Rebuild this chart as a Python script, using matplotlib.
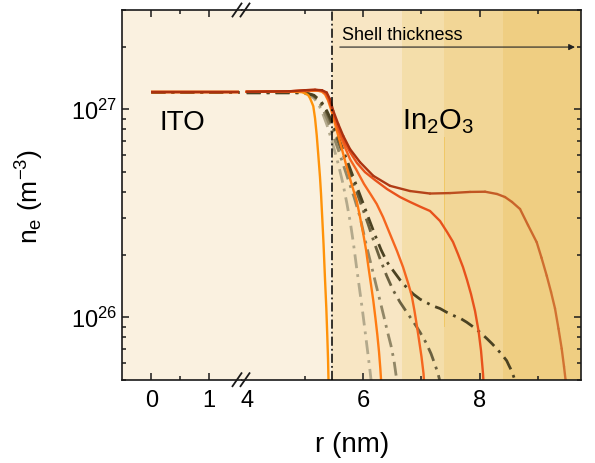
import matplotlib
matplotlib.use('Agg')
import numpy as np
import matplotlib.pyplot as plt
from matplotlib.ticker import LogLocator, NullFormatter, FixedLocator
from matplotlib.lines import Line2D
from matplotlib.collections import LineCollection
from matplotlib.colors import to_rgb

plt.rcParams['font.family'] = ['Liberation Sans', 'DejaVu Sans']
plt.rcParams['mathtext.fontset'] = 'custom'
plt.rcParams['mathtext.rm'] = 'Liberation Sans'
plt.rcParams['mathtext.it'] = 'Liberation Sans:italic'
plt.rcParams['mathtext.bf'] = 'Liberation Sans:bold'

# ---------------- data ----------------
# ITO core part (same for all profiles)
core_r = [0.0, 1.52]
core_n = [1.21e27, 1.21e27]

# shell profiles (r in nm, n_e in m^-3)
r1 = [4.0, 4.830, 4.951, 5.019, 5.058, 5.088, 5.117, 5.144, 5.174, 5.203, 5.230, 5.259, 5.277,
      5.299, 5.320, 5.345, 5.368, 5.385, 5.397, 5.405, 5.411]
n1 = [1.213e27, 1.213e27, 1.207e27, 1.187e27, 1.167e27, 1.129e27, 1.080e27, 1.034e27, 9.05e26,
      7.50e26, 6.02e26, 4.72e26, 3.91e26, 2.96e26, 2.25e26, 1.53e26, 1.10e26, 8.05e25, 6.31e25,
      5.0e25, 4.29e25]

r2 = [4.0, 4.916, 5.053, 5.156, 5.242, 5.311, 5.380, 5.448, 5.517, 5.586, 5.655, 5.723, 5.784,
      5.835, 5.887, 5.938, 5.990, 6.033, 6.076, 6.110, 6.136, 6.148]
n2 = [1.200e27, 1.200e27, 1.180e27, 1.129e27, 1.045e27, 9.46e26, 8.38e26, 7.26e26, 6.22e26,
      5.27e26, 4.37e26, 3.50e26, 2.81e26, 2.25e26, 1.74e26, 1.37e26, 1.07e26, 8.60e25, 6.89e25,
      5.78e25, 5.0e25, 4.43e25]

r3 = [4.0, 4.916, 5.225, 5.294, 5.345, 5.397, 5.448, 5.500, 5.551, 5.603, 5.663, 5.718, 5.792,
      5.890, 5.947, 6.003, 6.050, 6.089, 6.136, 6.175, 6.213, 6.244, 6.273, 6.296, 6.308, 6.316]
n3 = [1.213e27, 1.220e27, 1.227e27, 1.213e27, 1.180e27, 1.105e27, 1.0e27, 8.86e26, 7.84e26,
      6.94e26, 6.02e26, 5.27e26, 4.46e26, 3.62e26, 3.03e26, 2.51e26, 2.11e26, 1.76e26, 1.43e26,
      1.20e26, 9.82e25, 8.23e25, 6.82e25, 5.65e25, 5.0e25, 4.43e25]

r4 = [4.0, 5.002, 5.122, 5.225, 5.311, 5.397, 5.483, 5.569, 5.655, 5.741, 5.844, 5.947, 6.050,
      6.148, 6.222, 6.290, 6.359, 6.419, 6.479, 6.531, 6.577, 6.591]
n4 = [1.200e27, 1.200e27, 1.167e27, 1.105e27, 1.0e27, 8.76e26, 7.50e26, 6.43e26, 5.45e26,
      4.61e26, 3.78e26, 3.03e26, 2.25e26, 1.74e26, 1.43e26, 1.20e26, 1.00e26, 8.50e25, 7.29e25,
      6.17e25, 5.0e25, 4.43e25]

r5 = [4.0, 4.916, 5.225, 5.294, 5.363, 5.414, 5.466, 5.517, 5.586, 5.672, 5.775, 5.878, 6.015,
      6.136, 6.234, 6.342, 6.462, 6.582, 6.686, 6.772, 6.835, 6.883, 6.921, 6.960, 7.003, 7.038,
      7.055]
n5 = [1.213e27, 1.220e27, 1.234e27, 1.227e27, 1.180e27, 1.092e27, 1.0e27, 8.95e26, 7.76e26,
      6.72e26, 5.75e26, 5.15e26, 4.37e26, 3.87e26, 3.50e26, 3.03e26, 2.51e26, 2.08e26, 1.74e26,
      1.46e26, 1.27e26, 1.07e26, 9.19e25, 7.78e25, 6.45e25, 5.35e25, 4.53e25]

r6 = [4.0, 5.002, 5.139, 5.259, 5.363, 5.466, 5.569, 5.672, 5.775, 5.878, 5.981, 6.084, 6.187,
      6.290, 6.405, 6.514, 6.634, 6.755, 6.875, 6.978, 7.081, 7.167, 7.236, 7.287, 7.313, 7.330]
n6 = [1.200e27, 1.200e27, 1.167e27, 1.092e27, 9.78e26, 8.38e26, 7.02e26, 5.89e26, 4.93e26,
      4.09e26, 3.39e26, 2.81e26, 2.30e26, 1.91e26, 1.58e26, 1.35e26, 1.18e26, 1.05e26, 9.39e25,
      8.46e25, 7.53e25, 6.67e25, 5.90e25, 5.35e25, 5.0e25, 4.43e25]

r7 = [4.0, 4.744, 5.002, 5.174, 5.294, 5.363, 5.414, 5.466, 5.534, 5.603, 5.689, 5.775, 5.895,
      6.033, 6.205, 6.411, 6.634, 6.806, 6.978, 7.149, 7.321, 7.441, 7.544, 7.630, 7.716, 7.785,
      7.854, 7.923, 7.983, 8.026, 8.060, 8.074]
n7 = [1.213e27, 1.220e27, 1.234e27, 1.240e27, 1.227e27, 1.194e27, 1.117e27, 1.0e27, 8.76e26,
      7.76e26, 6.87e26, 6.22e26, 5.51e26, 4.98e26, 4.56e26, 4.13e26, 3.78e26, 3.58e26, 3.40e26,
      3.24e26, 2.90e26, 2.57e26, 2.30e26, 2.01e26, 1.74e26, 1.51e26, 1.29e26, 1.07e26, 8.60e25,
      6.89e25, 5.35e25, 4.53e25]

r8 = [4.0, 5.002, 5.156, 5.277, 5.380, 5.483, 5.586, 5.689, 5.792, 5.895, 5.998, 6.101, 6.205,
      6.308, 6.411, 6.519, 6.634, 6.755, 6.863, 6.978, 7.098, 7.206, 7.321, 7.436, 7.579, 7.682,
      7.780, 7.888, 8.009, 8.129, 8.215, 8.296, 8.370, 8.421, 8.467, 8.507, 8.541, 8.581, 8.611,
      8.628]
n8 = [1.200e27, 1.200e27, 1.167e27, 1.092e27, 9.78e26, 8.47e26, 7.18e26, 6.02e26, 5.04e26,
      4.22e26, 3.54e26, 2.96e26, 2.48e26, 2.11e26, 1.84e26, 1.67e26, 1.51e26, 1.38e26, 1.29e26,
      1.22e26, 1.17e26, 1.13e26, 1.10e26, 1.055e26, 1.01e26, 9.82e25, 9.45e25, 8.99e25, 8.45e25,
      7.87e25, 7.45e25, 7.05e25, 6.67e25, 6.41e25, 6.17e25, 5.84e25, 5.59e25, 5.23e25, 4.95e25,
      4.43e25]

r9 = [4.0, 4.744, 5.002, 5.174, 5.294, 5.375, 5.431, 5.488, 5.574, 5.660, 5.775, 5.947, 6.175,
      6.462, 6.806, 7.149, 7.493, 7.837, 8.095, 8.301, 8.438, 8.558, 8.696, 8.833, 8.983, 9.065,
      9.155, 9.229, 9.297, 9.357, 9.412, 9.452, 9.478, 9.490]
n9 = [1.213e27, 1.220e27, 1.234e27, 1.240e27, 1.234e27, 1.203e27, 1.117e27, 9.81e26, 8.47e26,
      7.43e26, 6.43e26, 5.56e26, 4.78e26, 4.28e26, 4.04e26, 3.93e26, 3.95e26, 4.00e26, 4.01e26,
      3.91e26, 3.78e26, 3.58e26, 3.31e26, 2.77e26, 2.29e26, 1.93e26, 1.58e26, 1.32e26, 1.10e26,
      8.79e25, 7.05e25, 5.77e25, 5.0e25, 4.30e25]

# shell region boundaries (nm)
core_edge = 5.466
shell_edges = [5.466, 6.66, 7.39, 8.41, 9.76]
shell_colors = ['#F8E6C4', '#F4DEAA', '#F2D696', '#EFCE82']

# ---------------- styles ----------------
dashdot = (0, (5, 2.2, 1, 2.2))
profiles = [
    (r2, n2, dict(color='#B3A98C', ls=dashdot, lw=2.0)),
    (r4, n4, dict(color='#928767', ls=dashdot, lw=2.0)),
    (r6, n6, dict(color='#6B6140', ls=dashdot, lw=2.0)),
    (r8, n8, dict(color='#4B4222', ls=dashdot, lw=2.0)),
    (r1, n1, dict(color='#FF930A', ls='-', lw=1.7)),
    (r3, n3, dict(color='#FF7C12', ls='-', lw=1.7)),
    (r5, n5, dict(color='#F5661F', ls='-', lw=1.7)),
    (r7, n7, dict(color='#E8521C', ls='-', lw=1.7)),
]
last_color_start = '#A9300F'
last_color_end = '#D27232'

# ---------------- figure ----------------
W, H = 595, 464
fig = plt.figure(figsize=(W / 100, H / 100), dpi=100)
x0, x_br, x1 = 122.3, 241.7, 580.5
y_top, y_bot = 11.0, 380.7
bottom = 1 - y_bot / H
height = (y_bot - y_top) / H
axL = fig.add_axes([x0 / W, bottom, (x_br - x0) / W, height])
axR = fig.add_axes([x_br / W, bottom, (x1 - x_br) / W, height], sharey=axL)

bg = '#FAF1E0'
for ax in (axL, axR):
    ax.set_facecolor(bg)
    for s in ax.spines.values():
        s.set_linewidth(1.2)
        s.set_color('#1a1a1a')

axL.set_yscale('log')
axL.set_ylim(5.0e25, 3.0e27)
axL.set_xlim(-0.5, 1.56)
axR.set_xlim(3.914, 9.735)

# shell shading
for i, c in enumerate(shell_colors):
    axR.axvspan(shell_edges[i], shell_edges[i + 1], color=c, lw=0, zorder=0)
axR.plot([7.39, 7.39], [7.34e26, 9.1e25], color='#F0C45A', lw=0.7, alpha=0.8, zorder=0.5)

# profiles
for r, n, st in profiles:
    axL.plot(core_r, core_n, solid_capstyle='butt', zorder=2, **st)
    axR.plot(r, n, zorder=2, **st)

# thickest-shell profile: colour shifts from dark red to brown-orange along r
c0, c1 = np.array(to_rgb(last_color_start)), np.array(to_rgb(last_color_end))
axL.plot(core_r, core_n, color=last_color_start, lw=1.7, solid_capstyle='butt', zorder=2)
pts = np.column_stack([r9, n9])
segs = np.stack([pts[:-1], pts[1:]], axis=1)
tt = np.clip((np.array(r9[:-1]) - 5.8) / (9.3 - 5.8), 0, 1)
cols = [tuple(c0 + (c1 - c0) * t) for t in tt]
lc = LineCollection(segs, colors=cols, linewidths=1.7, zorder=2, capstyle='round',
                    joinstyle='round')
axR.add_collection(lc)

axR.axvline(core_edge, color='black', lw=1.1, ls=(0, (6, 2, 1.2, 2)), zorder=3)

# ticks
axL.spines['right'].set_visible(False)
axR.spines['left'].set_visible(False)
axL.tick_params(which='both', direction='in', top=True, bottom=True, left=True, right=False,
                labelsize=17, width=1.1, colors='#1a1a1a', labelcolor='black')
axR.tick_params(which='both', direction='in', top=True, bottom=True, left=False, right=True,
                labelleft=False, labelsize=17, width=1.1, colors='#1a1a1a', labelcolor='black')
for ax in (axL, axR):
    ax.tick_params(which='major', length=5)
    ax.tick_params(which='minor', length=3)
    ax.tick_params(axis='x', pad=7)
    ax.tick_params(axis='y', pad=4)
axL.yaxis.set_major_locator(LogLocator(base=10, numticks=10))
axL.yaxis.set_minor_locator(LogLocator(base=10, subs=[2, 3, 4, 5, 6, 7, 8, 9], numticks=10))
axL.yaxis.set_minor_formatter(NullFormatter())

axL.set_xticks([0, 1])
axL.set_xticklabels(['0', '1'])
axL.xaxis.set_minor_locator(FixedLocator([0.5]))
axR.set_xticks([4, 6, 8])
axR.set_xticklabels(['4', '6', '8'])
axR.xaxis.set_minor_locator(FixedLocator([5, 7, 9]))
t4 = axR.xaxis.get_major_ticks()[0]
t4.tick1line.set_visible(False)
t4.tick2line.set_visible(False)

# break marks
def fx(px):
    return px / W

def fy(py):
    return 1 - py / H

for ys in (y_top, y_bot):
    for cx in (237.0, 245.0):
        ln = Line2D([fx(cx - 4.5), fx(cx + 4.5)], [fy(ys + 6.5), fy(ys - 6.5)],
                    transform=fig.transFigure, color='#1a1a1a', lw=1.3, clip_on=False)
        fig.add_artist(ln)

# texts
axL.text(0.14, 8.0e26, 'ITO', fontsize=20, ha='left', va='baseline')
axR.text(6.66, 8.07e26, r'In$_\mathregular{2}$O$_\mathregular{3}$', fontsize=21, ha='left',
         va='baseline')
axR.text(5.63, 2.17e27, 'Shell thickness', fontsize=13, ha='left', va='baseline')
axR.annotate('', xy=(9.64, 1.99e27), xytext=(5.60, 1.99e27),
             arrowprops=dict(arrowstyle='-|>', color='#222222', lw=0.8, mutation_scale=9,
                             shrinkA=0, shrinkB=0))

fig.text(352.5 / W, 1 - 445 / H, 'r (nm)', fontsize=20, ha='center', va='center')
fig.text(30 / W, 1 - 196 / H, r'n$_\mathregular{e}$ (m$^\mathregular{-3}$)', fontsize=19,
         rotation=90, ha='center', va='center')

fig.savefig('out.png', dpi=100)
